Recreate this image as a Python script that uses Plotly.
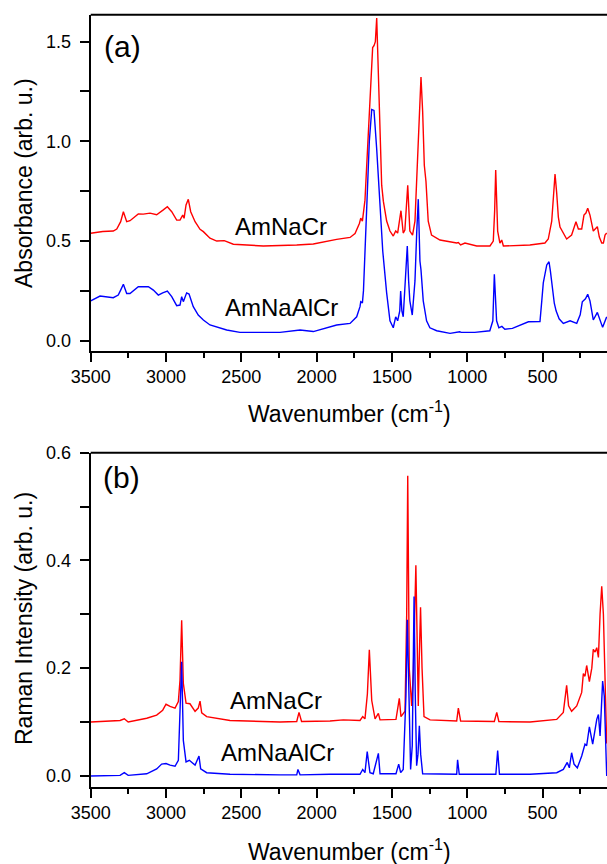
import plotly.graph_objects as go

FONT = "Liberation Sans, Arial, sans-serif"

# ---------- Panel (a): IR absorbance ----------
ir_wn_amnacr = [3500, 3420, 3350, 3327, 3301, 3283, 3261, 3239, 3184, 3151, 3106, 3062, 3018, 2991, 2962,
                2929, 2907, 2889, 2880, 2867, 2852, 2836, 2807, 2774, 2752, 2708, 2663, 2613, 2553, 2354,
                2132, 2022, 1867, 1778, 1745, 1716, 1707, 1696, 1679, 1657, 1641, 1628, 1619, 1610, 1601,
                1590, 1579, 1568, 1557, 1535, 1513, 1491, 1475, 1462, 1440, 1425, 1414, 1395, 1381, 1363,
                1347, 1332, 1318, 1307, 1296, 1285, 1274, 1259, 1237, 1181, 1070, 1059, 1044, 1015, 937,
                849, 827, 818, 811, 804, 798, 783, 771, 760, 584, 484, 462, 439, 428, 417, 406, 395, 384,
                340, 307, 278, 262, 240, 225, 212, 200, 185, 163, 136, 123, 107, 96, 85, 74]
ir_abs_amnacr = [0.539, 0.548, 0.55, 0.56, 0.597, 0.647, 0.597, 0.602, 0.636, 0.635, 0.64, 0.632, 0.656, 0.672, 0.647,
                 0.605, 0.605, 0.63, 0.614, 0.681, 0.709, 0.647, 0.597, 0.559, 0.547, 0.514, 0.50, 0.502, 0.484, 0.475,
                 0.48, 0.485, 0.508, 0.518, 0.538, 0.588, 0.615, 0.60, 0.705, 1.04, 1.3, 1.47, 1.48, 1.5, 1.618,
                 1.35, 1.0, 0.78, 0.7, 0.6, 0.55, 0.525, 0.55, 0.54, 0.652, 0.54, 0.555, 0.78, 0.55, 0.53,
                 0.6, 0.9, 1.2, 1.322, 1.15, 0.88, 0.80, 0.6, 0.53, 0.505, 0.49, 0.492, 0.48, 0.49, 0.475,
                 0.475, 0.5, 0.65, 0.856, 0.65, 0.55, 0.49, 0.505, 0.475, 0.48, 0.49, 0.51, 0.6, 0.71, 0.836, 0.74, 0.62, 0.57,
                 0.51, 0.53, 0.597, 0.56, 0.56, 0.63, 0.64, 0.664, 0.63, 0.55, 0.572, 0.52, 0.49, 0.49, 0.53, 0.54]

ir_wn_amnaalcr = [3500, 3438, 3350, 3317, 3301, 3283, 3261, 3239, 3184, 3117, 3084, 3051, 3022, 2991, 2962,
                  2929, 2907, 2896, 2885, 2863, 2847, 2819, 2786, 2752, 2708, 2653, 2597, 2509, 2243, 2110,
                  2022, 1867, 1778, 1734, 1712, 1707, 1696, 1689, 1668, 1650, 1634, 1619, 1601, 1579, 1561,
                  1535, 1513, 1491, 1475, 1462, 1448, 1442, 1434, 1425, 1410, 1398, 1389, 1381, 1365, 1347,
                  1335, 1325, 1314, 1307, 1292, 1270, 1248, 1203, 1114, 1050, 1040, 950, 850, 830, 820,
                  812, 805, 790, 770, 750, 700, 594, 560, 517, 505, 495, 472, 457, 448, 439, 422, 410,
                  390, 362, 317, 273, 250, 236, 215, 200, 185, 163, 136, 101, 74]
ir_abs_amnaalcr = [0.2, 0.224, 0.216, 0.229, 0.254, 0.283, 0.237, 0.237, 0.271, 0.271, 0.254, 0.229, 0.24, 0.249, 0.221,
                   0.176, 0.179, 0.221, 0.196, 0.24, 0.234, 0.171, 0.129, 0.104, 0.079, 0.066, 0.054, 0.042, 0.042, 0.054,
                   0.046, 0.079, 0.087, 0.12, 0.171, 0.196, 0.19, 0.25, 0.7, 1.0, 1.16, 1.155, 0.96, 0.71, 0.45,
                   0.24, 0.1, 0.065, 0.12, 0.1, 0.15, 0.249, 0.15, 0.12, 0.3, 0.475, 0.3, 0.2, 0.129, 0.3,
                   0.55, 0.71, 0.40, 0.355, 0.2, 0.1, 0.065, 0.05, 0.037, 0.045, 0.042, 0.042, 0.05, 0.1, 0.333,
                   0.2, 0.1, 0.065, 0.072, 0.058, 0.062, 0.095, 0.094, 0.096, 0.2, 0.29, 0.38, 0.396, 0.35, 0.29, 0.188, 0.15,
                   0.11, 0.087, 0.1, 0.087, 0.13, 0.195, 0.21, 0.233, 0.2, 0.104, 0.142, 0.067, 0.12]

# ---------- Panel (b): Raman ----------
ra_wn_amnacr = [3500, 3305, 3277, 3251, 3128, 3062, 3022, 3000, 2973, 2940, 2918, 2907, 2896, 2885, 2867,
                2841, 2807, 2786, 2774, 2763, 2730, 2575, 2243, 2132, 2117, 2100, 1911, 1823, 1712, 1694,
                1679, 1663, 1650, 1634, 1612, 1590, 1579, 1473, 1451, 1440, 1413, 1402, 1395, 1385, 1369,
                1358, 1341, 1331, 1325, 1320, 1310, 1300, 1287, 1247, 1070, 1059, 1044, 820, 804, 790,
                583, 406, 362, 340, 327, 307, 273, 240, 229, 218, 207, 189, 173, 163, 151, 140, 129,
                118, 107, 96, 85, 74]
ra_int_amnacr = [0.1, 0.103, 0.106, 0.1, 0.107, 0.113, 0.122, 0.133, 0.129, 0.126, 0.138, 0.178, 0.289, 0.172, 0.135,
                 0.134, 0.12, 0.126, 0.139, 0.117, 0.11, 0.103, 0.1, 0.101, 0.118, 0.101, 0.102, 0.104, 0.103, 0.11,
                 0.106, 0.152, 0.234, 0.14, 0.106, 0.116, 0.104, 0.105, 0.144, 0.11, 0.12, 0.3, 0.557, 0.2, 0.13,
                 0.19, 0.391, 0.2, 0.13, 0.2, 0.313, 0.2, 0.11, 0.104, 0.102, 0.126, 0.102, 0.101, 0.118, 0.101,
                 0.1, 0.105, 0.118, 0.168, 0.13, 0.12, 0.13, 0.155, 0.19, 0.185, 0.205, 0.175, 0.2, 0.235, 0.23, 0.238, 0.22,
                 0.3, 0.352, 0.3, 0.15, 0.06]

ra_wn_amnaalcr = [3500, 3305, 3277, 3251, 3128, 3062, 3029, 3000, 2973, 2940, 2918, 2907, 2896, 2885, 2867,
                  2845, 2807, 2781, 2770, 2730, 2575, 2243, 2132, 2124, 2110, 1911, 1712, 1694, 1679, 1664,
                  1646, 1624, 1590, 1579, 1473, 1455, 1442, 1425, 1407, 1398, 1389, 1376, 1365, 1353, 1345,
                  1336, 1327, 1318, 1309, 1296, 1070, 1064, 1053, 810, 798, 786, 583, 406, 362, 336,
                  322, 307, 291, 269, 240, 218, 207, 189, 167, 151, 140, 129, 118, 101, 90, 74]
ra_int_amnaalcr = [0.0, 0.001, 0.006, 0.001, 0.004, 0.013, 0.022, 0.023, 0.02, 0.018, 0.029, 0.14, 0.212, 0.066, 0.026,
                   0.029, 0.02, 0.037, 0.013, 0.006, 0.003, 0.002, 0.002, 0.012, 0.002, 0.003, 0.003, 0.012, 0.006, 0.045,
                   0.006, 0.004, 0.042, 0.004, 0.004, 0.022, 0.006, 0.012, 0.148, 0.29, 0.148, 0.012, 0.056, 0.333, 0.15,
                   0.019, 0.04, 0.093, 0.04, 0.004, 0.003, 0.03, 0.003, 0.003, 0.047, 0.003, 0.003, 0.006, 0.012, 0.025,
                   0.015, 0.043, 0.022, 0.015, 0.037, 0.059, 0.056, 0.091, 0.059, 0.087, 0.105, 0.114, 0.074, 0.176, 0.148, 0.0]

series_labels = ["AmNaCr", "AmNaAlCr"]
RED, BLUE = "#FF0000", "#0000FF"

W, H = 607, 864
left_px = 90.7
a_top, a_bot = 14.7, 350.7
b_top, b_bot = 452.7, 786.7

def ydom(top, bot):
    return [1 - bot / H, 1 - top / H]

fig = go.Figure()
fig.add_trace(go.Scatter(x=ir_wn_amnacr, y=ir_abs_amnacr, mode="lines", line=dict(color=RED, width=1.4),
                         xaxis="x", yaxis="y", showlegend=False))
fig.add_trace(go.Scatter(x=ir_wn_amnaalcr, y=ir_abs_amnaalcr, mode="lines", line=dict(color=BLUE, width=1.4),
                         xaxis="x", yaxis="y", showlegend=False))
fig.add_trace(go.Scatter(x=ra_wn_amnacr, y=ra_int_amnacr, mode="lines", line=dict(color=RED, width=1.4),
                         xaxis="x2", yaxis="y2", showlegend=False))
fig.add_trace(go.Scatter(x=ra_wn_amnaalcr, y=ra_int_amnaalcr, mode="lines", line=dict(color=BLUE, width=1.4),
                         xaxis="x2", yaxis="y2", showlegend=False))

tickfont = dict(family=FONT, size=18, color="black")
common_x = dict(range=[3500, 72], showline=True, linecolor="black", linewidth=2, automargin=False,
                ticks="outside", ticklen=9, tickwidth=2, tickcolor="black", dtick=500, tick0=0,
                minor=dict(dtick=250, ticks="outside", ticklen=5, tickwidth=2, tickcolor="black"),
                showgrid=False, zeroline=False, tickfont=tickfont, domain=[left_px / W, 1])
common_y = dict(showline=True, linecolor="black", linewidth=2, ticks="outside", ticklen=9, tickwidth=2,
                tickcolor="black", showgrid=False, zeroline=False, tickfont=tickfont, tickformat=".1f",
                ticklabelstandoff=5, automargin=False)

fig.update_layout(
    width=W, height=H, margin=dict(l=0, r=0, t=0, b=0, pad=0, autoexpand=False),
    paper_bgcolor="white", plot_bgcolor="white",
    font=dict(family=FONT, color="black"),
    xaxis=dict(**common_x, anchor="y"),
    yaxis=dict(**common_y, range=[-0.05, 1.635], dtick=0.5, tick0=0, domain=ydom(a_top, a_bot), anchor="x",
               minor=dict(dtick=0.25, ticks="outside", ticklen=9, tickwidth=2, tickcolor="black")),
    xaxis2=dict(**common_x, anchor="y2"),
    yaxis2=dict(**common_y, range=[-0.02, 0.6], dtick=0.2, tick0=0, domain=ydom(b_top, b_bot), anchor="x2",
                minor=dict(dtick=0.1, ticks="outside", ticklen=9, tickwidth=2, tickcolor="black")),
    shapes=[
        dict(type="line", xref="x domain", yref="y domain", x0=0, x1=1, y0=1, y1=1,
             line=dict(color="black", width=2)),
        dict(type="line", xref="x2 domain", yref="y2 domain", x0=0, x1=1, y0=1, y1=1,
             line=dict(color="black", width=2)),
    ],
)

def ann(text, x, y, size, xanchor="center", textangle=0):
    fig.add_annotation(text=text, x=x / W, y=1 - y / H, xref="paper", yref="paper",
                       xanchor=xanchor, yanchor="middle", showarrow=False, textangle=textangle,
                       font=dict(family=FONT, size=size, color="black"))

# axis titles
ann("Wavenumber (cm<sup>-1</sup>)", 349, 412, 23)
ann("Wavenumber (cm<sup>-1</sup>)", 349, 850, 23)
ann("Absorbance (arb. u.)", 24, 183, 23, textangle=-90)
ann("Raman Intensity (arb. u.)", 24, 619, 23, textangle=-90)
# panel labels
ann("(a)", 102, 47, 30, xanchor="left")
ann("(b)", 101, 478, 30, xanchor="left")
# series labels
ann(series_labels[0], 281, 227, 24)
ann(series_labels[1], 281.5, 307, 24)
ann(series_labels[0], 276, 700, 24)
ann(series_labels[1], 277.5, 752, 24)

fig.write_html("out.html", config={"displayModeBar": False},
               post_script="document.body.style.margin='0';document.body.style.overflow='hidden';")
